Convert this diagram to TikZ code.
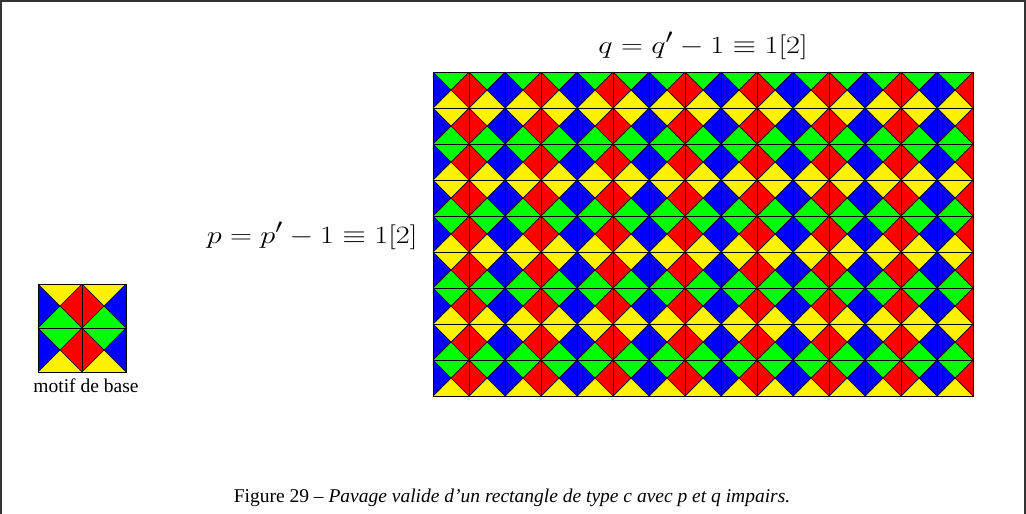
\documentclass[tikz,border=0pt]{standalone}
\usepackage{fontspec}
\setmainfont{Liberation Serif}
\tikzset{
  gridline/.style={draw=black, line width=0.7pt},
  frameline/.style={draw=black!80, line width=1.2pt},
  mathlab/.style={font=\fontsize{30}{34}\selectfont},
  textlab/.style={font=\fontsize{19.5}{23}\selectfont},
}
% tile: x y size top right bottom left
\newcommand\wtile[7]{%
  \fill[#4] (#1,#2) -- (#1+#3,#2) -- (#1+#3/2,#2+#3/2) -- cycle;
  \fill[#5] (#1+#3,#2) -- (#1+#3,#2+#3) -- (#1+#3/2,#2+#3/2) -- cycle;
  \fill[#6] (#1,#2+#3) -- (#1+#3,#2+#3) -- (#1+#3/2,#2+#3/2) -- cycle;
  \fill[#7] (#1,#2) -- (#1,#2+#3) -- (#1+#3/2,#2+#3/2) -- cycle;
  \draw[gridline] (#1,#2) rectangle (#1+#3,#2+#3);
  \draw[gridline] (#1,#2) -- (#1+#3,#2+#3) (#1+#3,#2) -- (#1,#2+#3);
}
\begin{document}
\begin{tikzpicture}[x=1pt,y=-1pt]
\useasboundingbox (0,0) rectangle (1026,514);
\draw[frameline] (1,514) -- (1,1) -- (1025,1) -- (1025,514);
% big tiling
\foreach \i in {0,...,14}{
  \foreach \j in {0,...,8}{
    \pgfmathsetmacro\xx{433+36*\i}
    \pgfmathsetmacro\yy{72+36*\j}
    \ifodd\i \def\LL{red}\def\RR{blue}\else\def\LL{blue}\def\RR{red}\fi
    \ifodd\j \def\TT{yellow}\def\BB{green}\else\def\TT{green}\def\BB{yellow}\fi
    \wtile{\xx}{\yy}{36}{\TT}{\RR}{\BB}{\LL}
  }
}
% motif de base
\wtile{38}{284}{44}{yellow}{red}{green}{blue}
\wtile{82}{284}{44}{yellow}{blue}{green}{red}
\wtile{38}{328}{44}{green}{red}{yellow}{blue}
\wtile{82}{328}{44}{green}{blue}{yellow}{red}
% texts
\node[anchor=base, mathlab] (qlab) at (703,53) {\scalebox{1.22}[1]{$q = q' - 1 \equiv 1[2]$}};
\node[anchor=base east, mathlab] (plab) at (421,243) {\scalebox{1.22}[1]{$p = p' - 1 \equiv 1[2]$}};
\node[anchor=base, textlab] (mlab) at (86,392) {motif de base};
\node[anchor=base, textlab] (cap) at (512,502) {Figure 29 – \textit{Pavage valide d’un rectangle de type c avec p et q impairs.}};
\end{tikzpicture}
\end{document}
